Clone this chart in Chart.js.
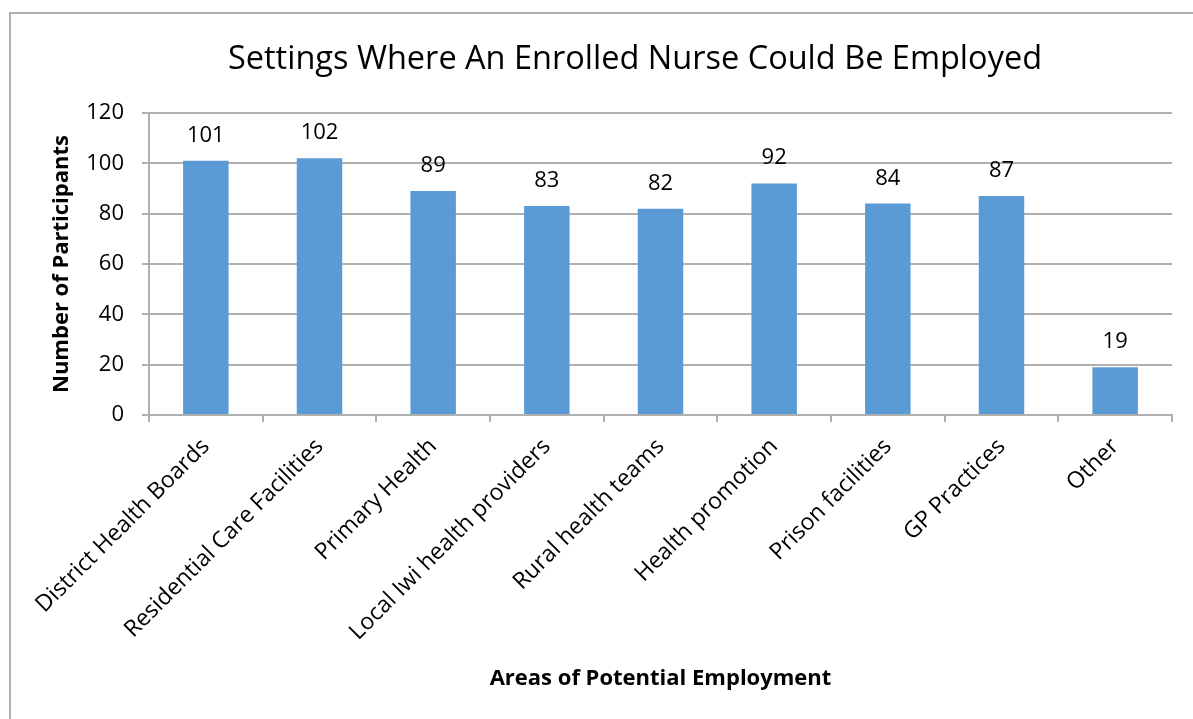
<!DOCTYPE html>
<html>
<head>
<meta charset="utf-8">
<title>Settings Where An Enrolled Nurse Could Be Employed</title>
<script src="https://cdn.jsdelivr.net/npm/chart.js@4"></script>
<style>
  body { margin: 0; background: #fff; overflow: hidden; }
  #frame {
    position: absolute; left: 9px; top: 12px; width: 1300px; height: 800px;
    border-left: 2px solid #b0b0b0; border-top: 2px solid #b0b0b0;
  }
  #myChart { position: absolute; left: 0; top: 0; }
</style>
</head>
<body>
<div id="frame"></div>
<canvas id="myChart" width="1193" height="719"></canvas>
<script>
const graph = document.getElementById('myChart')

const areas = [
    'District Health Boards',
    'Residential Care Facilities',
    'Primary Health',
    'Local Iwi health providers',
    'Rural health teams',
    'Health promotion',
    'Prison facilities',
    'GP Practices',
    'Other'
]
const participants = [101, 102, 89, 83, 82, 92, 84, 87, 19]
const yTicks = [0, 20, 40, 60, 80, 100, 120]

const fontFamily = "'Open Sans', 'Noto Sans', sans-serif"
const gridColor = '#b0b0b0'

// value over each bar, placed from the bar element itself
const barValues = {
    id: 'barValues',
    afterDatasetsDraw(chart) {
        const ctx = chart.ctx
        const meta = chart.getDatasetMeta(0)
        ctx.save()
        ctx.font = '22px ' + fontFamily
        ctx.fillStyle = '#000'
        ctx.textAlign = 'center'
        ctx.textBaseline = 'alphabetic'
        meta.data.forEach((bar, i) => {
            ctx.fillText(String(participants[i]), bar.x, bar.y - 19)
        })
        ctx.restore()
    }
}

// the outer frame runs past the right edge of the page, so the title
// is centred on the whole frame rather than on the visible width
const titleSpan = {
    id: 'titleSpan',
    afterLayout(chart) {
        if (chart.titleBlock) {
            chart.titleBlock.left = 10
            chart.titleBlock.right = 1260
        }
    }
}

const data = {
    labels: areas,
    datasets: [
        {
            label: 'Participants',
            data: participants,
            backgroundColor: '#5b9bd5',
            borderWidth: 0,
            barPercentage: 0.4,
            categoryPercentage: 1
        }
    ]
}

const config = {
    type: 'bar',
    data,
    options: {
        responsive: false,
        animation: false,
        layout: { padding: { left: 10, top: 13, right: 21, bottom: 0 } },
        plugins: {
            legend: { display: false },
            tooltip: { enabled: false },
            title: {
                display: true,
                text: 'Settings Where An Enrolled Nurse Could Be Employed',
                color: '#000',
                font: { family: fontFamily, size: 32.5, weight: 'normal' },
                padding: { top: 27, bottom: 34 }
            }
        },
        scales: {
            x: {
                grid: {
                    offset: true,
                    drawOnChartArea: false,
                    drawTicks: true,
                    tickLength: 7,
                    color: gridColor,
                    lineWidth: 2
                },
                border: { display: true, color: gridColor, width: 2 },
                ticks: {
                    color: '#000',
                    font: { family: fontFamily, size: 23 },
                    minRotation: 45,
                    maxRotation: 45,
                    padding: 11,
                    autoSkip: false
                },
                title: {
                    display: true,
                    text: 'Areas of Potential Employment',
                    color: '#000',
                    font: { family: fontFamily, size: 22, weight: 'bold' },
                    padding: { top: 0, bottom: 27 }
                },
                afterFit(scale) { scale.height = 304 }
            },
            y: {
                min: 0,
                max: 120,
                afterBuildTicks(scale) {
                    scale.ticks = yTicks.map((v) => ({ value: v }))
                },
                grid: {
                    color: gridColor,
                    lineWidth: 2,
                    tickLength: 7
                },
                border: { display: true, color: gridColor, width: 2 },
                ticks: {
                    color: '#000',
                    font: { family: fontFamily, size: 22 },
                    padding: 18
                },
                title: {
                    display: true,
                    text: 'Number of Participants',
                    color: '#000',
                    font: { family: fontFamily, size: 22, weight: 'bold' },
                    padding: { top: 39, bottom: 0 }
                },
                afterFit(scale) { scale.width = 139 }
            }
        }
    },
    plugins: [barValues, titleSpan]
}

new Chart(graph, config)
</script>
</body>
</html>
